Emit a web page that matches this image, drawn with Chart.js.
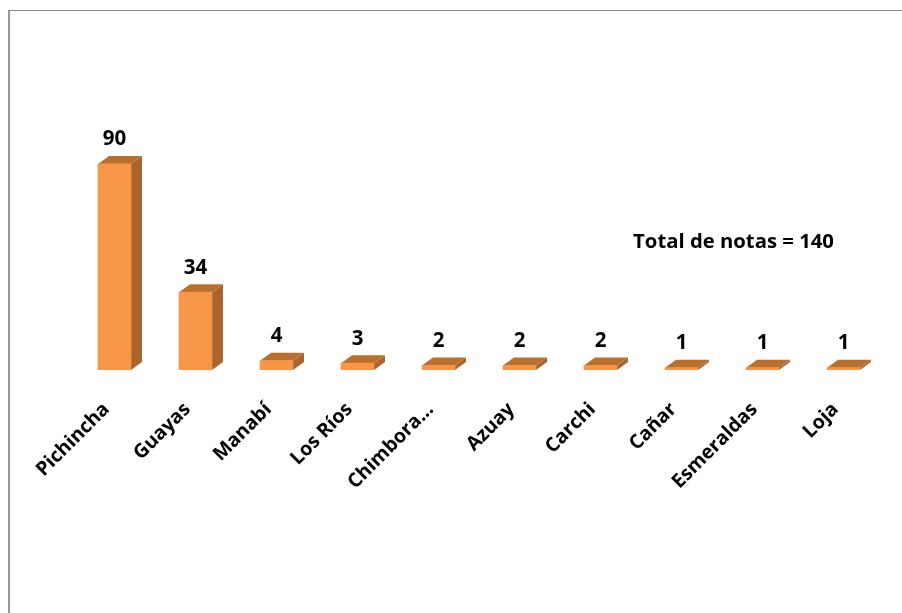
<!DOCTYPE html>
<html>
<head>
<meta charset="utf-8">
<style>
  html, body { margin: 0; padding: 0; background: #fff; overflow: hidden; }
  #frame { position: absolute; left: 8px; top: 10px; width: 893px; height: 603px; border-left: 2px solid #9a9a9a; border-top: 1px solid #8f8f8f; }
  #wrap { position: absolute; left: 0; top: 0; width: 902px; height: 613px; }
</style>
</head>
<body>
<div id="frame"></div>
<div id="wrap"><canvas id="myChart" width="902" height="613"></canvas></div>
<script src="https://cdn.jsdelivr.net/npm/chart.js@4"></script>
<script>
  const categories = ['Pichincha', 'Guayas', 'Manabí', 'Los Ríos', 'Chimbora...', 'Azuay', 'Carchi', 'Cañar', 'Esmeraldas', 'Loja'];
  const notas = [90, 34, 4, 3, 2, 2, 2, 1, 1, 1];
  const totalText = 'Total de notas = 140';

  const fontName = '"Open Sans", sans-serif';

  // sides of the bars and value labels, placed from the bar elements
  const bar3d = {
    id: 'bar3d',
    beforeDatasetsDraw(chart) {
      const c = chart.ctx;
      chart.getDatasetMeta(0).data.forEach((b) => {
        const x1 = b.x - b.width / 2, x2 = b.x + b.width / 2;
        const dx = 11, dy = 8;
        c.fillStyle = '#a9652d';
        c.beginPath();
        c.moveTo(x2, b.y);
        c.lineTo(x2 + dx, b.y - dy);
        c.lineTo(x2 + dx, b.base - dy);
        c.lineTo(x2, b.base);
        c.closePath();
        c.fill();
        c.fillStyle = '#b9702f';
        c.beginPath();
        c.moveTo(x1, b.y);
        c.lineTo(x1 + dx, b.y - dy);
        c.lineTo(x2 + dx, b.y - dy);
        c.lineTo(x2, b.y);
        c.closePath();
        c.fill();
      });
    },
    afterDatasetsDraw(chart) {
      const c = chart.ctx;
      c.fillStyle = '#000';
      c.font = 'bold 20.5px ' + fontName;
      c.textAlign = 'center';
      c.textBaseline = 'alphabetic';
      chart.getDatasetMeta(0).data.forEach((b, i) => {
        c.fillText(notas[i], b.x, b.y - 18.5);
      });
      c.font = 'bold 20.3px ' + fontName;
      c.fillText(totalText, 733.5, 248);
    }
  };

  new Chart(document.getElementById('myChart'), {
    type: 'bar',
    data: {
      labels: categories,
      datasets: [{
        label: 'Notas',
        data: notas,
        backgroundColor: '#f79646',
        barThickness: 33,
      }]
    },
    options: {
      responsive: false,
      animation: false,
      layout: { padding: { left: 74, right: 18, top: 141 } },
      plugins: { legend: { display: false }, tooltip: { enabled: false } },
      scales: {
        x: {
          grid: { display: false },
          border: { display: false },
          afterFit(scale) { scale.height = 243; },
          ticks: {
            color: '#000',
            font: { family: fontName, size: 19.5, weight: 'bold' },
            minRotation: 45,
            maxRotation: 45,
            autoSkip: false,
            padding: 20,
            labelOffset: -8,
          }
        },
        y: {
          display: false,
          min: 0,
          max: 100,
        }
      }
    },
    plugins: [bar3d]
  });
</script>
</body>
</html>
